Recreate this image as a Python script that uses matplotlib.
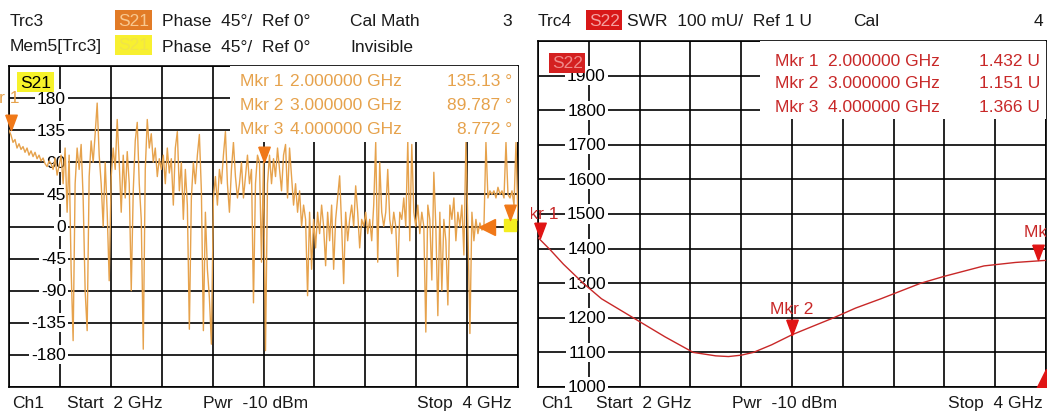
import numpy as np
import matplotlib.pyplot as plt
from matplotlib.patches import Rectangle
from matplotlib.transforms import Bbox, offset_copy

# figure size in pixels
W, H = 1048, 414

# ---- data ----
# S21 phase trace (deg), sweep 2..4 GHz
s21_phase = [
    135, 128, 118, 122, 110, 116, 108, 112, 104, 110, 100,
    106, 98, 104, 95, 100, 92, 96, 88, 84, 92,
    88, 80, 96, 72, 85, 100, 60, 110, 20, 100,
    -60, -160, 60, 110, 80, 115, 40, -90, -146, 70,
    120, 90, 130, 173, 100, 60, 0, 90, 20, -76,
    70, 110, 80, 150, 90, 20, 100, 40, 105, 60,
    -90, 50, 120, 146, 60, 10, -172, 80, 150, 110,
    130, 90, 110, 70, 95, 80, 100, 60, 110, 75,
    95, 30, 110, 133, 50, 90, 10, 80, 30, -144,
    40, 90, 60, 100, 129, 50, -146, 20, -60, -100,
    -165, 40, 70, 30, 80, 60, 100, 133, 60, 20,
    80, 118, 70, 40, 60, 90, 40, 70, 100, 60,
    80, -107, 60, 100, 90, -50, 90, -174, 60, 100,
    60, 95, 70, 110, 80, 50, 100, 115, 40, 110,
    70, 30, 60, 20, 50, 0, 30, 10, -97, 20,
    -60, 10, -30, 20, -10, 30, 0, -55, 20, -20,
    30, -60, 10, 40, 71, 0, -80, 20, -20, 10,
    30, 0, 57, 20, -30, 10, 0, 20, -10, 10,
    -20, 30, 118, -50, 90, 20, 0, 20, 80, 10,
    -10, 20, 0, -70, 20, 10, 40, 0, 120, -20,
    115, 20, 0, 30, -10, 20, 0, -148, 30, 10,
    -75, 76, 0, -125, 20, -90, 10, -20, -110, 30,
    10, 40, -20, 20, 0, 30, -40, 118, 0, -150,
    20, -20, 10, -10, 5, -5, 0, 118, 40, 50,
    45, 50, 40, 55, 45, 50, 40, 118, 45, 40,
    50, 30, 118, 9,
]
s21_freq = np.linspace(2, 4, len(s21_phase))

# S22 SWR trace (display units mU)
s22_freq = [2.0, 2.05, 2.1, 2.178, 2.25, 2.375, 2.5, 2.611, 2.7, 2.75, 2.8, 2.848,
            2.92, 3.0, 3.08, 3.164, 3.25, 3.35, 3.507, 3.6, 3.756, 3.88, 4.0]
s22_swr = [1432, 1395, 1355, 1300, 1255, 1200, 1145, 1100, 1090, 1088, 1092, 1100,
           1122, 1151, 1175, 1200, 1228, 1255, 1300, 1320, 1350, 1360, 1366]

# markers
mkr_names = ['Mkr 1', 'Mkr 2', 'Mkr 3']
mkr_freq = [2.0, 3.0, 4.0]
mkr_freq_txt = ['2.000000 GHz', '3.000000 GHz', '4.000000 GHz']
s21_mkr = [135.13, 89.787, 8.772]
s21_mkr_txt = ['135.13 \u00b0', '89.787 \u00b0', '8.772 \u00b0']
s22_mkr = [1.432, 1.151, 1.366]
s22_mkr_txt = ['1.432 U', '1.151 U', '1.366 U']
mem_mkr = (3.88, 0)        # left-pointing marker of the memory trace
mem_blob = (3.97, 2)

phase_ticks = [180, 135, 90, 45, 0, -45, -90, -135, -180]
swr_ticks = [1900, 1800, 1700, 1600, 1500, 1400, 1300, 1200, 1100, 1000]

ORANGE = '#e6a24c'
ORANGE_MK = '#f07818'
RED = '#c82828'
RED_MK = '#e01414'
FS = 12.5

plt.rcParams['font.family'] = ['Liberation Sans', 'DejaVu Sans']

fig = plt.figure(figsize=(W / 100, H / 100), dpi=100)


def fx(x):
    return x / W


def fy(y):
    return 1 - y / H


def ftext(x, y, s, **kw):
    kw.setdefault('fontsize', FS)
    kw.setdefault('va', 'center')
    kw.setdefault('color', '#1a1a1a')
    return fig.text(fx(x), fy(y), s, **kw)


def clip_px(artist, left, top, right, bottom):
    # clip an artist to a box given in picture pixels (top-left origin)
    artist.set_clip_on(True)
    artist.set_clip_box(Bbox.from_extents(left, H - bottom, right, H - top))


def panel(left, top, right, bottom):
    return fig.add_axes([fx(left), fy(bottom), (right - left) / W, (bottom - top) / H])


ax1 = panel(9, 67, 518, 388)
ax2 = panel(538, 42, 1046, 388)

for ax in (ax1, ax2):
    ax.set_xlim(2, 4)
    ax.set_xticks(np.linspace(2, 4, 11))
    ax.grid(True, color='black', lw=1.2)
    ax.set_axisbelow(True)
    ax.tick_params(length=0, labelbottom=False, labelleft=False)
    for sp in ax.spines.values():
        sp.set_linewidth(1.2)

ax1.set_ylim(-225, 225)
ax1.set_yticks(np.arange(-225, 226, 45))
ax2.set_ylim(1000, 2000)
ax2.set_yticks(np.arange(1000, 2001, 100))

# white areas behind marker info (cover the grid)
fig.patches.append(Rectangle((fx(230), fy(143)), (518 - 230) / W, (143 - 67) / H,
                             transform=fig.transFigure, fc='white', ec='none', zorder=1))
fig.patches.append(Rectangle((fx(760), fy(120)), (1046 - 760) / W, (120 - 42) / H,
                             transform=fig.transFigure, fc='white', ec='none', zorder=1))

# y labels sitting on the first vertical grid line
lab_bbox = dict(boxstyle='square,pad=0.12', fc='white', ec='none')
for v in phase_ticks:
    ax1.annotate(str(v), (2.2, v), xytext=(6, 0), textcoords='offset pixels',
                 ha='right', va='center', fontsize=FS, bbox=lab_bbox, zorder=3)
for v in swr_ticks:
    t = ax2.annotate(str(v), (2.2, v), xytext=(17, 0), textcoords='offset pixels',
                     ha='right', va='center', fontsize=FS, bbox=lab_bbox, zorder=3,
                     annotation_clip=False)
    clip_px(t, 538, 0, W, 393)

# traces
ax1.plot(s21_freq, s21_phase, color=ORANGE, lw=1.0, zorder=4)
ax2.plot(s22_freq, s22_swr, color=RED, lw=1.0, zorder=4)

# marker triangles, tip on the trace; nudged to stay inside the screen area
tri = [(-0.75, 2.0), (0.75, 2.0), (0, 0), (-0.75, 2.0)]
mkr_nudge = [2, 0, -8]
for i in range(3):
    tr1 = offset_copy(ax1.transData, fig=fig, x=mkr_nudge[i], y=0, units='dots')
    tr2 = offset_copy(ax2.transData, fig=fig, x=mkr_nudge[i], y=0, units='dots')
    ax1.plot(mkr_freq[i], s21_mkr[i], ls='none', marker=tri, ms=22, color=ORANGE_MK,
             zorder=5, transform=tr1, clip_on=False)
    ax2.plot(mkr_freq[i], s22_mkr[i] * 1000, ls='none', marker=tri, ms=22, color=RED_MK,
             zorder=5, transform=tr2, clip_on=False)
ax1.plot(*mem_mkr, ls='none', marker='<', ms=11, color=ORANGE_MK, zorder=5)
ax1.plot(*mem_blob, ls='none', marker='s', ms=9, color='#f4ee20', zorder=4)
ax2.plot(4.0, 1000, ls='none', marker='^', ms=26, color=RED_MK, zorder=5)

# marker labels on the traces
ax1.annotate('Mkr 1', (mkr_freq[0], s21_mkr[0]), xytext=(-11, 33),
             textcoords='offset pixels', ha='center', va='center',
             fontsize=FS, color=ORANGE, annotation_clip=False)
ax1.annotate('Mkr 2', (mkr_freq[1], s21_mkr[1]), xytext=(4, 28),
             textcoords='offset pixels', ha='center', va='center',
             fontsize=FS, color=ORANGE_MK, zorder=6)
t = ax2.annotate('Mkr 1', (mkr_freq[0], s22_mkr[0] * 1000), xytext=(-1, 24),
                 textcoords='offset pixels', ha='center', va='center',
                 fontsize=FS, color=RED, annotation_clip=False)
clip_px(t, 531, 0, W, H)
ax2.annotate('Mkr 2', (mkr_freq[1], s22_mkr[1] * 1000), xytext=(0, 26),
             textcoords='offset pixels', ha='center', va='center',
             fontsize=FS, color=RED)
t = ax2.annotate('Mkr 3', (mkr_freq[2], s22_mkr[2] * 1000), xytext=(0, 29),
                 textcoords='offset pixels', ha='center', va='center',
                 fontsize=FS, color=RED, annotation_clip=False)
clip_px(t, 0, 0, 1046, H)

# in-plot trace tags
ftext(20, 83, 'S21', color='black',
      bbox=dict(boxstyle='square,pad=0.15', fc='#f6f22a', ec='none'))
ftext(552, 64, 'S22', color='#f08a8a',
      bbox=dict(boxstyle='square,pad=0.15', fc='#d42020', ec='none'))

# marker info blocks
for i in range(3):
    y = 82 + 24 * i
    ftext(240, y, mkr_names[i], color=ORANGE, zorder=6)
    ftext(290, y, mkr_freq_txt[i], color=ORANGE, zorder=6)
    ftext(512, y, s21_mkr_txt[i], color=ORANGE, ha='right', zorder=6)
    y = 61 + 23 * i
    ftext(775, y, mkr_names[i], color=RED, zorder=6)
    ftext(828, y, mkr_freq_txt[i], color=RED, zorder=6)
    ftext(1040, y, s22_mkr_txt[i], color=RED, ha='right', zorder=6)

# headers
ftext(10, 22, 'Trc3')
ftext(118, 21, 'S21', color='#f8c890',
      bbox=dict(boxstyle='square,pad=0.15', fc='#e27b26', ec='none'))
ftext(10, 47, 'Mem5[Trc3]')
ftext(118, 46, 'S21', color='#f0e448',
      bbox=dict(boxstyle='square,pad=0.15', fc='#f8f030', ec='none'))
ftext(162, 22, 'Phase  45\u00b0/  Ref 0\u00b0')
ftext(162, 47, 'Phase  45\u00b0/  Ref 0\u00b0')
ftext(350, 22, 'Cal Math')
ftext(350, 47, 'Invisible')
ftext(512, 22, '3', ha='right')

ftext(538, 22, 'Trc4')
ftext(589, 21, 'S22', color='#f4a0a0',
      bbox=dict(boxstyle='square,pad=0.15', fc='#d81818', ec='none'))
ftext(627, 22, 'SWR  100 mU/  Ref 1 U')
ftext(853, 22, 'Cal')
ftext(1043, 22, '4', ha='right')

# footers
for x0, x1 in ((9, 512), (538, 1043)):
    ftext(x0 + 3, 404, 'Ch1')
    ftext(x0 + 58, 404, 'Start  2 GHz')
    ftext(x0 + 194, 404, 'Pwr  -10 dBm')
    ftext(x1, 404, 'Stop  4 GHz', ha='right')

fig.savefig('out.png', dpi=100, facecolor='white')
